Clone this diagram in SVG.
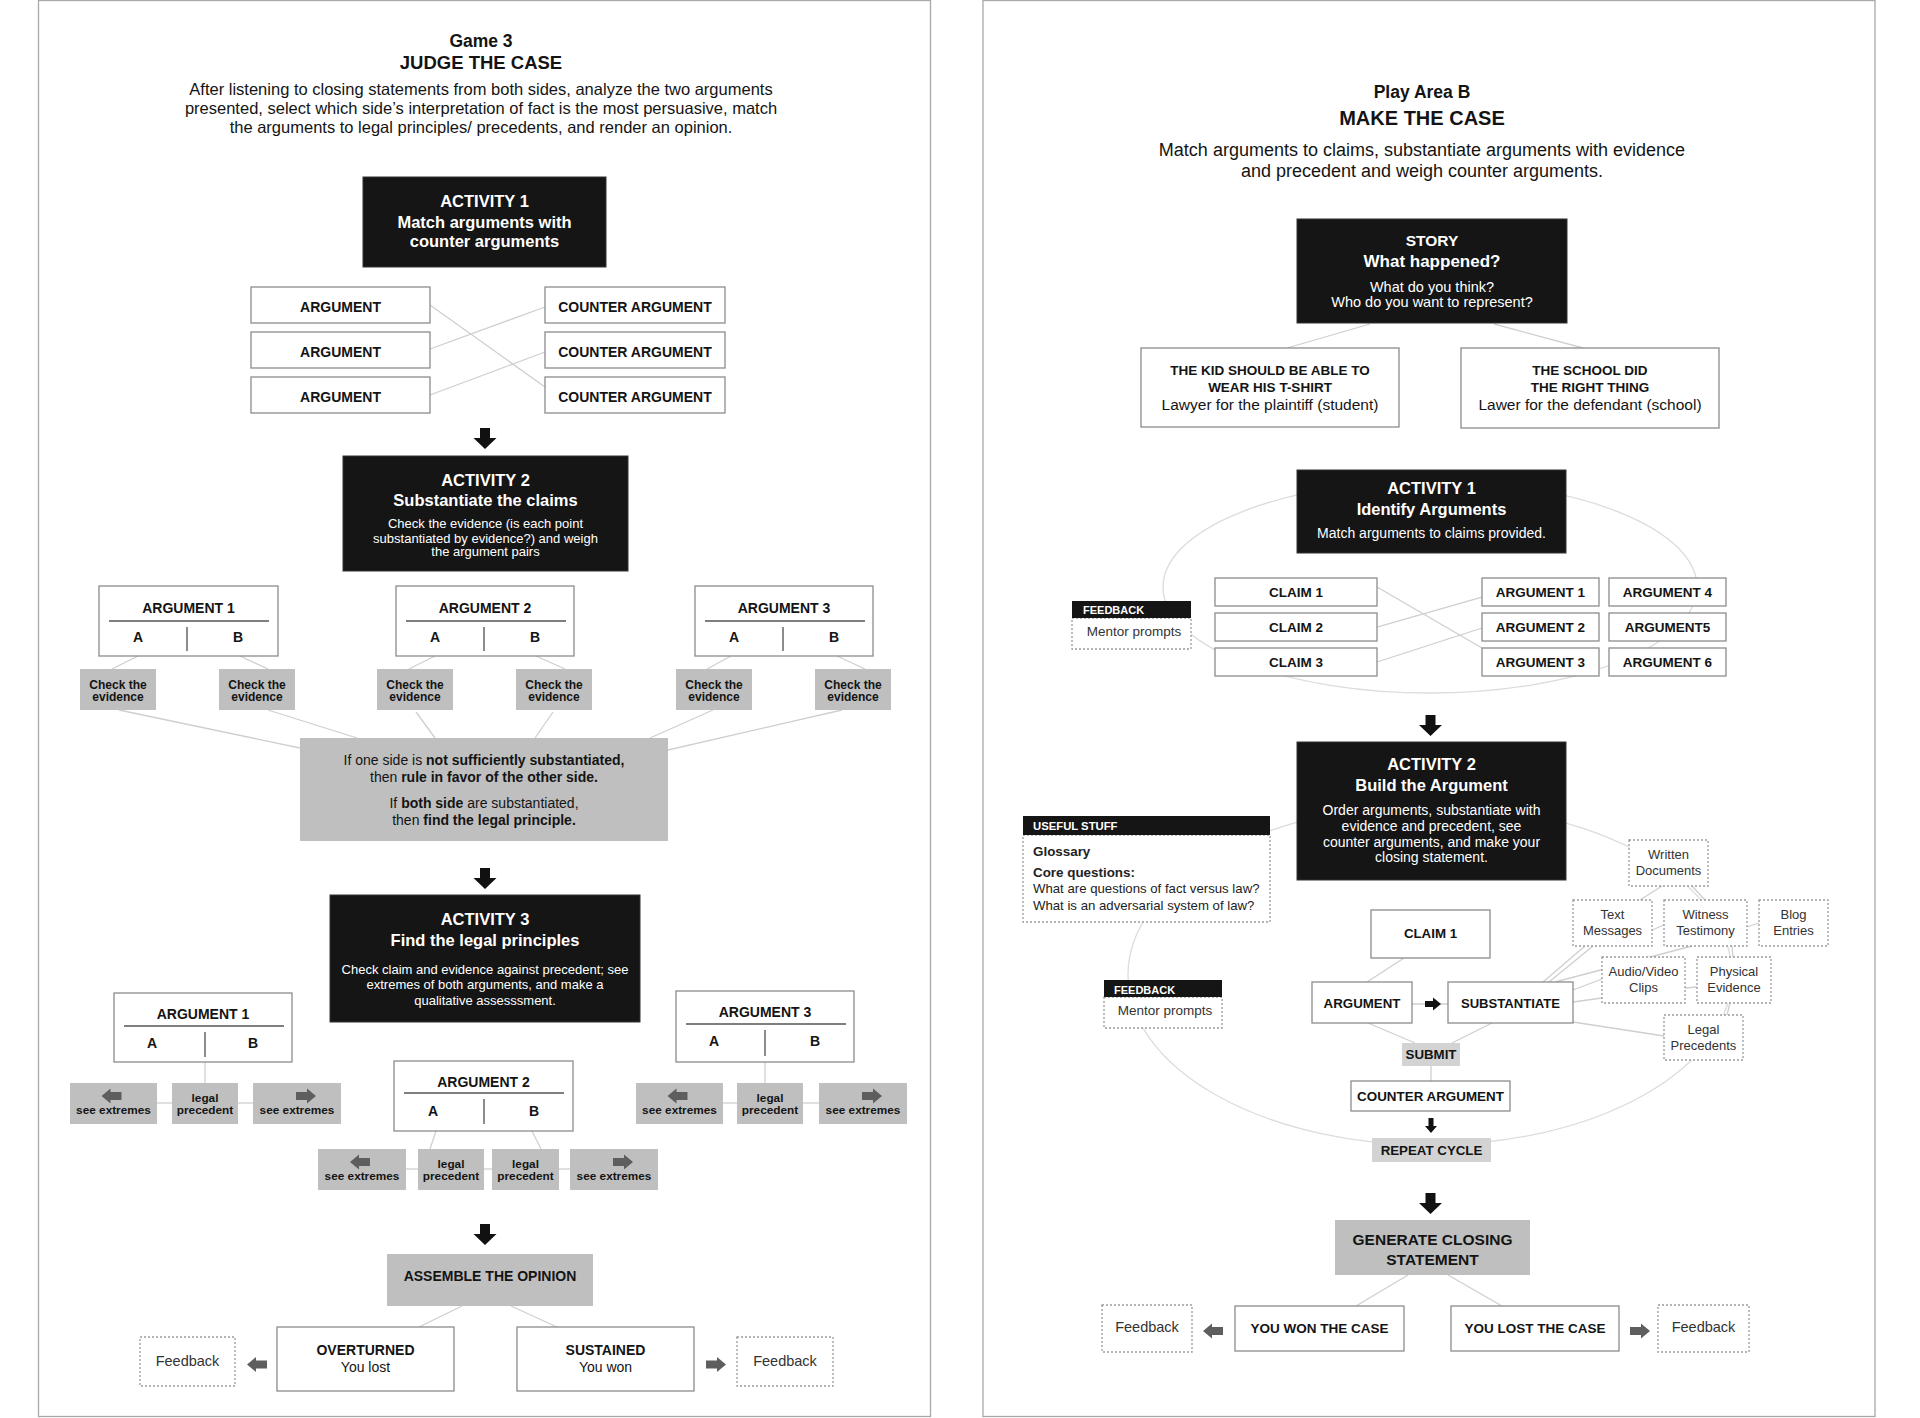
<svg xmlns="http://www.w3.org/2000/svg" xmlns:xlink="http://www.w3.org/1999/xlink" width="1920" height="1418" viewBox="0 0 1920 1418">
<style>
text{font-family:"Liberation Sans",Arial,sans-serif;fill:#141414}
.c{text-anchor:middle}
.b{font-weight:bold}
.w{fill:#fff}
.g{fill:#333}
.panel{fill:#fff;stroke:#a8a8a8;stroke-width:1.3}
.box{fill:#fff;stroke:#8c8c8c;stroke-width:1.3}
.blk{fill:#151515;stroke:#333;stroke-width:1}
.gry{fill:#bfbfbf}
.lg{fill:#d3d3d3}
.dash{fill:#fff;stroke:#9a9a9a;stroke-width:1.3;stroke-dasharray:2 2}
.cn{stroke:#cfcfcf;stroke-width:1.3;fill:none}
.ell{stroke:#dcdcdc;stroke-width:1.3;fill:none}
.ul{stroke:#555;stroke-width:1.5}
.dv{stroke:#666;stroke-width:1.5}
.ga{fill:#5e5e5e}
.ba{fill:#111}
.f17{font-size:17.5px}
.f19{font-size:18.5px}
.f20{font-size:20px}
.f18{font-size:18px}
.p16{font-size:16.5px}
.h16{font-size:16.5px}
.s13{font-size:13px}
.s14{font-size:14px}
.l14{font-size:14px}
.l135{font-size:13.5px}
.e12{font-size:12px}
.x115{font-size:11.8px}
.fb{font-size:14.5px}
.hd{font-size:11px}
</style>
<defs>
<path id="ad" d="M-5,0 H5 V10 H11.5 L0,21 L-11.5,10 H-5 Z"/>
<path id="al" d="M0,0 L9,-7.5 V-4 H20 V4 H9 V7.5 Z"/>
<path id="ar" d="M20,0 L11,-7.5 V-4 H0 V4 H11 V7.5 Z"/>
<path id="abr" d="M0,-3 H8 V-6.5 L16,0 L8,6.5 V3 H0 Z"/>
<path id="ads" d="M-2.5,0 H2.5 V8 H6 L0,15 L-6,8 H-2.5 Z"/>
</defs>
<rect width="1920" height="1418" fill="#fff"/>
<rect class="panel" x="38.5" y="0.5" width="892" height="1416"/>
<rect class="panel" x="983" y="0.5" width="892" height="1416"/>

<!-- ========== connectors ========== -->
<g id="connectors">
<line class="cn" x1="430" y1="305" x2="545" y2="387"/>
<line class="cn" x1="430" y1="349" x2="545" y2="307"/>
<line class="cn" x1="430" y1="395" x2="545" y2="352"/>
<line class="cn" x1="138" y1="656" x2="112" y2="669"/>
<line class="cn" x1="240" y1="656" x2="268" y2="669"/>
<line class="cn" x1="435" y1="656" x2="409" y2="669"/>
<line class="cn" x1="536" y1="656" x2="565" y2="669"/>
<line class="cn" x1="731" y1="656" x2="707" y2="669"/>
<line class="cn" x1="837" y1="656" x2="865" y2="669"/>
<line class="cn" x1="119" y1="710" x2="300" y2="748"/>
<line class="cn" x1="268" y1="710" x2="357" y2="738"/>
<line class="cn" x1="416" y1="712" x2="435" y2="738"/>
<line class="cn" x1="553" y1="712" x2="535" y2="738"/>
<line class="cn" x1="713" y1="710" x2="650" y2="738"/>
<line class="cn" x1="842" y1="710" x2="668" y2="750"/>
<line class="cn" x1="205" y1="1062" x2="205" y2="1083"/>
<line class="cn" x1="765" y1="1062" x2="765" y2="1083"/>
<line class="cn" x1="157" y1="1103" x2="172" y2="1103"/>
<line class="cn" x1="238" y1="1103" x2="253" y2="1103"/>
<line class="cn" x1="723" y1="1103" x2="737" y2="1103"/>
<line class="cn" x1="803" y1="1103" x2="819" y2="1103"/>
<line class="cn" x1="436" y1="1131" x2="430" y2="1149"/>
<line class="cn" x1="532" y1="1131" x2="541" y2="1149"/>
<line class="cn" x1="406" y1="1169" x2="418" y2="1169"/>
<line class="cn" x1="484" y1="1169" x2="492" y2="1169"/>
<line class="cn" x1="559" y1="1169" x2="570" y2="1169"/>
<line class="cn" x1="462" y1="1306" x2="419" y2="1327"/>
<line class="cn" x1="511" y1="1306" x2="557" y2="1327"/>
<!-- right panel -->
<ellipse class="ell" cx="1430" cy="587" rx="267" ry="106"/>
<ellipse class="ell" cx="1430" cy="975" rx="302" ry="170"/>
<line class="cn" x1="1370" y1="324" x2="1287" y2="348"/>
<line class="cn" x1="1494" y1="324" x2="1583" y2="348"/>
<line class="cn" x1="1377" y1="587" x2="1482" y2="648"/>
<line class="cn" x1="1377" y1="627" x2="1482" y2="597"/>
<line class="cn" x1="1377" y1="662" x2="1482" y2="628"/>
<line class="cn" x1="1404" y1="958" x2="1367" y2="982"/>
<line class="cn" x1="1412" y1="1004" x2="1448" y2="1004"/>
<line class="cn" x1="1368" y1="1023" x2="1415" y2="1043"/>
<line class="cn" x1="1492" y1="1023" x2="1452" y2="1043"/>
<line class="cn" x1="1431" y1="1066" x2="1431" y2="1081"/>
<line class="cn" x1="1662" y1="886" x2="1640" y2="900"/>
<line class="cn" x1="1692" y1="886" x2="1705" y2="900"/>
<line class="cn" x1="1652" y1="930" x2="1664" y2="925"/>
<line class="cn" x1="1747" y1="927" x2="1759" y2="923"/>
<line class="cn" x1="1732" y1="946" x2="1733" y2="957"/>
<line class="cn" x1="1543" y1="982" x2="1585" y2="946"/>
<line class="cn" x1="1549" y1="982" x2="1593" y2="946"/>
<line class="cn" x1="1555" y1="982" x2="1692" y2="946"/>
<line class="cn" x1="1573" y1="990" x2="1602" y2="979"/>
<line class="cn" x1="1573" y1="1002" x2="1602" y2="998"/>
<line class="cn" x1="1685" y1="988" x2="1697" y2="987"/>
<line class="cn" x1="1730" y1="1003" x2="1727" y2="1015"/>
<line class="cn" x1="1573" y1="1022" x2="1664" y2="1036"/>
<line class="cn" x1="1408" y1="1275" x2="1356" y2="1306"/>
<line class="cn" x1="1448" y1="1275" x2="1502" y2="1306"/>
</g>

<!-- ========== LEFT PANEL ========== -->
<g id="left-title">
<text class="c b f17" x="481" y="46.5">Game 3</text>
<text class="c b f19" x="481" y="69">JUDGE THE CASE</text>
<text class="c p16" x="481" y="95">After listening to closing statements from both sides, analyze the two arguments</text>
<text class="c p16" x="481" y="114">presented, select which side’s interpretation of fact is the most persuasive, match</text>
<text class="c p16" x="481" y="133">the arguments to legal principles/ precedents, and render an opinion.</text>
</g>

<g id="l-activity1">
<rect class="blk" x="363" y="177" width="243" height="90"/>
<text class="c b h16 w" x="484.5" y="207">ACTIVITY 1</text>
<text class="c b h16 w" x="484.5" y="228">Match arguments with</text>
<text class="c b h16 w" x="484.5" y="247">counter arguments</text>
</g>
<g id="l-arg-a"><rect class="box" x="251" y="287" width="179" height="36"/><text class="c b l14" x="340.5" y="312">ARGUMENT</text></g>
<g id="l-arg-b"><rect class="box" x="251" y="332" width="179" height="36"/><text class="c b l14" x="340.5" y="357">ARGUMENT</text></g>
<g id="l-arg-c"><rect class="box" x="251" y="377" width="179" height="36"/><text class="c b l14" x="340.5" y="402">ARGUMENT</text></g>
<g id="l-ctr-a"><rect class="box" x="545" y="287" width="180" height="36"/><text class="c b l14" x="635" y="312">COUNTER ARGUMENT</text></g>
<g id="l-ctr-b"><rect class="box" x="545" y="332" width="180" height="36"/><text class="c b l14" x="635" y="357">COUNTER ARGUMENT</text></g>
<g id="l-ctr-c"><rect class="box" x="545" y="377" width="180" height="36"/><text class="c b l14" x="635" y="402">COUNTER ARGUMENT</text></g>
<use href="#ad" xlink:href="#ad" class="ba" x="485" y="428"/>

<g id="l-activity2">
<rect class="blk" x="343" y="456" width="285" height="115"/>
<text class="c b h16 w" x="485.5" y="486">ACTIVITY 2</text>
<text class="c b h16 w" x="485.5" y="506">Substantiate the claims</text>
<text class="c s13 w" x="485.5" y="528">Check the evidence (is each point</text>
<text class="c s13 w" x="485.5" y="543">substantiated by evidence?) and weigh</text>
<text class="c s13 w" x="485.5" y="556">the argument pairs</text>
</g>
<g id="l2-arg1">
<rect class="box" x="99" y="586" width="179" height="70"/>
<text class="c b l14" x="188.5" y="613">ARGUMENT 1</text>
<line class="ul" x1="109" y1="621" x2="269" y2="621"/><line class="dv" x1="187" y1="627" x2="187" y2="651"/>
<text class="c b l14" x="138" y="642">A</text><text class="c b l14" x="238" y="642">B</text>
</g>
<g id="l2-arg2">
<rect class="box" x="396" y="586" width="178" height="70"/>
<text class="c b l14" x="485" y="613">ARGUMENT 2</text>
<line class="ul" x1="406" y1="621" x2="566" y2="621"/><line class="dv" x1="484" y1="627" x2="484" y2="651"/>
<text class="c b l14" x="435" y="642">A</text><text class="c b l14" x="535" y="642">B</text>
</g>
<g id="l2-arg3">
<rect class="box" x="695" y="586" width="178" height="70"/>
<text class="c b l14" x="784" y="613">ARGUMENT 3</text>
<line class="ul" x1="705" y1="621" x2="865" y2="621"/><line class="dv" x1="783" y1="627" x2="783" y2="651"/>
<text class="c b l14" x="734" y="642">A</text><text class="c b l14" x="834" y="642">B</text>
</g>
<g id="chk1"><rect class="gry" x="80" y="669" width="76" height="41"/><text class="c b e12" x="118" y="689">Check the</text><text class="c b e12" x="118" y="701">evidence</text></g>
<g id="chk2"><rect class="gry" x="219" y="669" width="76" height="41"/><text class="c b e12" x="257" y="689">Check the</text><text class="c b e12" x="257" y="701">evidence</text></g>
<g id="chk3"><rect class="gry" x="377" y="669" width="76" height="41"/><text class="c b e12" x="415" y="689">Check the</text><text class="c b e12" x="415" y="701">evidence</text></g>
<g id="chk4"><rect class="gry" x="516" y="669" width="76" height="41"/><text class="c b e12" x="554" y="689">Check the</text><text class="c b e12" x="554" y="701">evidence</text></g>
<g id="chk5"><rect class="gry" x="676" y="669" width="76" height="41"/><text class="c b e12" x="714" y="689">Check the</text><text class="c b e12" x="714" y="701">evidence</text></g>
<g id="chk6"><rect class="gry" x="815" y="669" width="76" height="41"/><text class="c b e12" x="853" y="689">Check the</text><text class="c b e12" x="853" y="701">evidence</text></g>
<g id="rule-box">
<rect class="gry" x="300" y="738" width="368" height="103"/>
<text class="c s14" x="484" y="765">If one side is <tspan class="b">not sufficiently substantiated,</tspan></text>
<text class="c s14" x="484" y="782">then <tspan class="b">rule in favor of the other side.</tspan></text>
<text class="c s14" x="484" y="808">If <tspan class="b">both side</tspan> are substantiated,</text>
<text class="c s14" x="484" y="825">then <tspan class="b">find the legal principle.</tspan></text>
</g>
<use href="#ad" xlink:href="#ad" class="ba" x="485" y="868"/>

<g id="l-activity3">
<rect class="blk" x="330" y="895" width="310" height="127"/>
<text class="c b h16 w" x="485" y="925">ACTIVITY 3</text>
<text class="c b h16 w" x="485" y="946">Find the legal principles</text>
<text class="c s13 w" x="485" y="974">Check claim and evidence against precedent; see</text>
<text class="c s13 w" x="485" y="989">extremes of both arguments, and  make a</text>
<text class="c s13 w" x="485" y="1005">qualitative assesssment.</text>
</g>
<g id="l3-arg1">
<rect class="box" x="114" y="993" width="178" height="69"/>
<text class="c b l14" x="203" y="1019">ARGUMENT 1</text>
<line class="ul" x1="124" y1="1026" x2="284" y2="1026"/><line class="dv" x1="205" y1="1032" x2="205" y2="1057"/>
<text class="c b l14" x="152" y="1048">A</text><text class="c b l14" x="253" y="1048">B</text>
</g>
<g id="l3-arg3">
<rect class="box" x="676" y="991" width="178" height="71"/>
<text class="c b l14" x="765" y="1017">ARGUMENT 3</text>
<line class="ul" x1="686" y1="1024" x2="846" y2="1024"/><line class="dv" x1="765" y1="1030" x2="765" y2="1056"/>
<text class="c b l14" x="714" y="1046">A</text><text class="c b l14" x="815" y="1046">B</text>
</g>
<g id="l3-arg2">
<rect class="box" x="394" y="1061" width="179" height="70"/>
<text class="c b l14" x="483.5" y="1087">ARGUMENT 2</text>
<line class="ul" x1="404" y1="1093" x2="564" y2="1093"/><line class="dv" x1="484" y1="1099" x2="484" y2="1124"/>
<text class="c b l14" x="433" y="1116">A</text><text class="c b l14" x="534" y="1116">B</text>
</g>
<g id="ext1"><rect class="gry" x="70" y="1083" width="87" height="41"/><use href="#al" xlink:href="#al" class="ga" x="101.5" y="1096"/><text class="c b x115" x="113.5" y="1114">see extremes</text></g>
<g id="lp1"><rect class="gry" x="172" y="1083" width="66" height="41"/><text class="c b x115" x="205" y="1102">legal</text><text class="c b x115" x="205" y="1114">precedent</text></g>
<g id="ext2"><rect class="gry" x="253" y="1083" width="88" height="41"/><use href="#ar" xlink:href="#ar" class="ga" x="296" y="1096"/><text class="c b x115" x="297" y="1114">see extremes</text></g>
<g id="ext3"><rect class="gry" x="636" y="1083" width="87" height="41"/><use href="#al" xlink:href="#al" class="ga" x="667.5" y="1096"/><text class="c b x115" x="679.5" y="1114">see extremes</text></g>
<g id="lp2"><rect class="gry" x="737" y="1083" width="66" height="41"/><text class="c b x115" x="770" y="1102">legal</text><text class="c b x115" x="770" y="1114">precedent</text></g>
<g id="ext4"><rect class="gry" x="819" y="1083" width="88" height="41"/><use href="#ar" xlink:href="#ar" class="ga" x="862" y="1096"/><text class="c b x115" x="863" y="1114">see extremes</text></g>
<g id="ext5"><rect class="gry" x="318" y="1149" width="88" height="41"/><use href="#al" xlink:href="#al" class="ga" x="350" y="1162"/><text class="c b x115" x="362" y="1180">see extremes</text></g>
<g id="lp3"><rect class="gry" x="418" y="1149" width="66" height="41"/><text class="c b x115" x="451" y="1168">legal</text><text class="c b x115" x="451" y="1180">precedent</text></g>
<g id="lp4"><rect class="gry" x="492" y="1149" width="67" height="41"/><text class="c b x115" x="525.5" y="1168">legal</text><text class="c b x115" x="525.5" y="1180">precedent</text></g>
<g id="ext6"><rect class="gry" x="570" y="1149" width="88" height="41"/><use href="#ar" xlink:href="#ar" class="ga" x="613" y="1162"/><text class="c b x115" x="614" y="1180">see extremes</text></g>
<use href="#ad" xlink:href="#ad" class="ba" x="485" y="1224"/>

<g id="assemble"><rect class="gry" x="387" y="1254" width="206" height="52"/><text class="c b l14" x="490" y="1281">ASSEMBLE THE OPINION</text></g>
<g id="overturned"><rect class="box" x="277" y="1327" width="177" height="64"/><text class="c b l14" x="365.5" y="1355">OVERTURNED</text><text class="c l14" x="365.5" y="1372">You lost</text></g>
<g id="sustained"><rect class="box" x="517" y="1327" width="177" height="64"/><text class="c b l14" x="605.5" y="1355">SUSTAINED</text><text class="c l14" x="605.5" y="1372">You won</text></g>
<g id="l-feedback1"><rect class="dash" x="140" y="1337" width="95" height="49"/><text class="c fb g" x="187.5" y="1366">Feedback</text></g>
<g id="l-feedback2"><rect class="dash" x="737" y="1337" width="96" height="49"/><text class="c fb g" x="785" y="1366">Feedback</text></g>
<use href="#al" xlink:href="#al" class="ga" x="247" y="1364.5"/>
<use href="#ar" xlink:href="#ar" class="ga" x="706" y="1364.5"/>

<!-- ========== RIGHT PANEL ========== -->
<g id="right-title">
<text class="c b f17" x="1422" y="98">Play Area B</text>
<text class="c b f20" x="1422" y="125">MAKE THE CASE</text>
<text class="c f18" x="1422" y="156">Match arguments to claims, substantiate arguments with evidence</text>
<text class="c f18" x="1422" y="177">and precedent and weigh counter arguments.</text>
</g>
<g id="story">
<rect class="blk" x="1297" y="219" width="270" height="104"/>
<text class="c b w" style="font-size:15.5px" x="1432" y="246">STORY</text>
<text class="c b w" style="font-size:17px" x="1432" y="267">What happened?</text>
<text class="c w" style="font-size:14.5px" x="1432" y="292">What do you think?</text>
<text class="c w" style="font-size:14.5px" x="1432" y="307">Who do you want to represent?</text>
</g>
<g id="plaintiff">
<rect class="box" x="1141" y="348" width="258" height="79"/>
<text class="c b l135" x="1270" y="375">THE KID SHOULD BE ABLE TO</text>
<text class="c b l135" x="1270" y="392">WEAR HIS T-SHIRT</text>
<text class="c" style="font-size:15.5px" x="1270" y="410">Lawyer for the plaintiff (student)</text>
</g>
<g id="defendant">
<rect class="box" x="1461" y="348" width="258" height="80"/>
<text class="c b l135" x="1590" y="375">THE SCHOOL DID</text>
<text class="c b l135" x="1590" y="392">THE RIGHT THING</text>
<text class="c" style="font-size:15.5px" x="1590" y="410">Lawer for the defendant (school)</text>
</g>
<g id="r-activity1">
<rect class="blk" x="1297" y="470" width="269" height="83"/>
<text class="c b h16 w" x="1431.5" y="494">ACTIVITY 1</text>
<text class="c b h16 w" x="1431.5" y="515">Identify Arguments</text>
<text class="c w" style="font-size:14px" x="1431.5" y="538">Match arguments to claims provided.</text>
</g>
<g id="r-feedback1">
<rect class="dash" x="1072" y="618" width="119" height="31"/>
<rect fill="#151515" x="1072" y="601" width="119" height="17"/>
<text class="b w hd" x="1083" y="614">FEEDBACK</text>
<text class="c g l135" x="1134" y="636">Mentor prompts</text>
</g>
<g id="claim1"><rect class="box" x="1215" y="578" width="162" height="28"/><text class="c b l135" x="1296" y="597">CLAIM 1</text></g>
<g id="claim2"><rect class="box" x="1215" y="613" width="162" height="28"/><text class="c b l135" x="1296" y="632">CLAIM 2</text></g>
<g id="claim3"><rect class="box" x="1215" y="648" width="162" height="28"/><text class="c b l135" x="1296" y="667">CLAIM 3</text></g>
<g id="rarg1"><rect class="box" x="1482" y="578" width="117" height="28"/><text class="c b l135" x="1540.5" y="597">ARGUMENT 1</text></g>
<g id="rarg2"><rect class="box" x="1482" y="613" width="117" height="28"/><text class="c b l135" x="1540.5" y="632">ARGUMENT 2</text></g>
<g id="rarg3"><rect class="box" x="1482" y="648" width="117" height="28"/><text class="c b l135" x="1540.5" y="667">ARGUMENT 3</text></g>
<g id="rarg4"><rect class="box" x="1609" y="578" width="117" height="28"/><text class="c b l135" x="1667.5" y="597">ARGUMENT 4</text></g>
<g id="rarg5"><rect class="box" x="1609" y="613" width="117" height="28"/><text class="c b l135" x="1667.5" y="632">ARGUMENT5</text></g>
<g id="rarg6"><rect class="box" x="1609" y="648" width="117" height="28"/><text class="c b l135" x="1667.5" y="667">ARGUMENT 6</text></g>
<use href="#ad" xlink:href="#ad" class="ba" x="1430.5" y="715"/>

<g id="r-activity2">
<rect class="blk" x="1297" y="742" width="269" height="138"/>
<text class="c b h16 w" x="1431.5" y="770">ACTIVITY 2</text>
<text class="c b h16 w" x="1431.5" y="791">Build the Argument</text>
<text class="c w" style="font-size:14px" x="1431.5" y="815">Order arguments, substantiate with</text>
<text class="c w" style="font-size:14px" x="1431.5" y="831">evidence and precedent, see</text>
<text class="c w" style="font-size:14px" x="1431.5" y="847">counter arguments, and make your</text>
<text class="c w" style="font-size:14px" x="1431.5" y="862">closing statement.</text>
</g>
<g id="useful">
<rect class="dash" x="1023" y="835" width="247" height="87"/>
<rect fill="#151515" x="1023" y="816" width="247" height="19"/>
<text class="b w" style="font-size:11.3px" x="1033" y="830">USEFUL STUFF</text>
<text class="b" style="font-size:13.4px;fill:#222" x="1033" y="856">Glossary</text>
<text class="b" style="font-size:13.4px;fill:#222" x="1033" y="877">Core questions:</text>
<text style="font-size:13.2px;fill:#222" x="1033" y="893">What are questions of fact versus law?</text>
<text style="font-size:13.2px;fill:#222" x="1033" y="910">What is an adversarial system of law?</text>
</g>
<g id="r-feedback2">
<rect class="dash" x="1104" y="997" width="118" height="31"/>
<rect fill="#151515" x="1104" y="980" width="118" height="17"/>
<text class="b w hd" x="1114" y="994">FEEDBACK</text>
<text class="c g l135" x="1165" y="1015">Mentor prompts</text>
</g>
<g id="claim-big"><rect class="box" x="1371" y="910" width="119" height="48"/><text class="c b" style="font-size:13.3px" x="1430.5" y="938">CLAIM 1</text></g>
<g id="argument"><rect class="box" x="1312" y="982" width="100" height="41"/><text class="c b" style="font-size:13.3px" x="1362" y="1008">ARGUMENT</text></g>
<g id="substantiate"><rect class="box" x="1448" y="982" width="125" height="41"/><text class="c b" style="font-size:13.1px" x="1510.5" y="1008">SUBSTANTIATE</text></g>
<use href="#abr" xlink:href="#abr" class="ba" x="1425" y="1004"/>
<g id="submit"><rect class="lg" x="1402" y="1043" width="58" height="23"/><text class="c b" style="font-size:13.3px" x="1431" y="1059">SUBMIT</text></g>
<g id="counter"><rect class="box" x="1351" y="1081" width="159" height="30"/><text class="c b" style="font-size:13.4px" x="1430.5" y="1101">COUNTER ARGUMENT</text></g>
<use href="#ads" xlink:href="#ads" class="ba" x="1431" y="1118"/>
<g id="repeat"><rect class="lg" x="1372" y="1138" width="119" height="24"/><text class="c b" style="font-size:13.3px" x="1431.5" y="1155">REPEAT CYCLE</text></g>
<g id="ev-written"><rect class="dash" x="1629" y="840" width="79" height="46"/><text class="c s13 g" x="1668.5" y="859">Written</text><text class="c s13 g" x="1668.5" y="875">Documents</text></g>
<g id="ev-text"><rect class="dash" x="1573" y="900" width="79" height="46"/><text class="c s13 g" x="1612.5" y="919">Text</text><text class="c s13 g" x="1612.5" y="935">Messages</text></g>
<g id="ev-witness"><rect class="dash" x="1664" y="900" width="83" height="46"/><text class="c s13 g" x="1705.5" y="919">Witness</text><text class="c s13 g" x="1705.5" y="935">Testimony</text></g>
<g id="ev-blog"><rect class="dash" x="1759" y="900" width="69" height="46"/><text class="c s13 g" x="1793.5" y="919">Blog</text><text class="c s13 g" x="1793.5" y="935">Entries</text></g>
<g id="ev-av"><rect class="dash" x="1602" y="957" width="83" height="46"/><text class="c s13 g" x="1643.5" y="976">Audio/Video</text><text class="c s13 g" x="1643.5" y="992">Clips</text></g>
<g id="ev-phys"><rect class="dash" x="1697" y="957" width="74" height="46"/><text class="c s13 g" x="1734" y="976">Physical</text><text class="c s13 g" x="1734" y="992">Evidence</text></g>
<g id="ev-legal"><rect class="dash" x="1664" y="1015" width="79" height="45"/><text class="c s13 g" x="1703.5" y="1034">Legal</text><text class="c s13 g" x="1703.5" y="1050">Precedents</text></g>
<use href="#ad" xlink:href="#ad" class="ba" x="1430.5" y="1193"/>

<g id="generate"><rect class="gry" x="1335" y="1220" width="195" height="55"/><text class="c b" style="font-size:15.5px" x="1432.5" y="1245">GENERATE CLOSING</text><text class="c b" style="font-size:15.5px" x="1432.5" y="1265">STATEMENT</text></g>
<g id="won"><rect class="box" x="1235" y="1306" width="169" height="45"/><text class="c b l135" x="1319.5" y="1333">YOU WON THE CASE</text></g>
<g id="lost"><rect class="box" x="1451" y="1306" width="168" height="45"/><text class="c b l135" x="1535" y="1333">YOU LOST THE CASE</text></g>
<g id="r-feedback3"><rect class="dash" x="1102" y="1305" width="90" height="47"/><text class="c fb g" x="1147" y="1332">Feedback</text></g>
<g id="r-feedback4"><rect class="dash" x="1658" y="1305" width="91" height="47"/><text class="c fb g" x="1703.5" y="1332">Feedback</text></g>
<use href="#al" xlink:href="#al" class="ga" x="1203" y="1331"/>
<use href="#ar" xlink:href="#ar" class="ga" x="1630" y="1331"/>
</svg>
